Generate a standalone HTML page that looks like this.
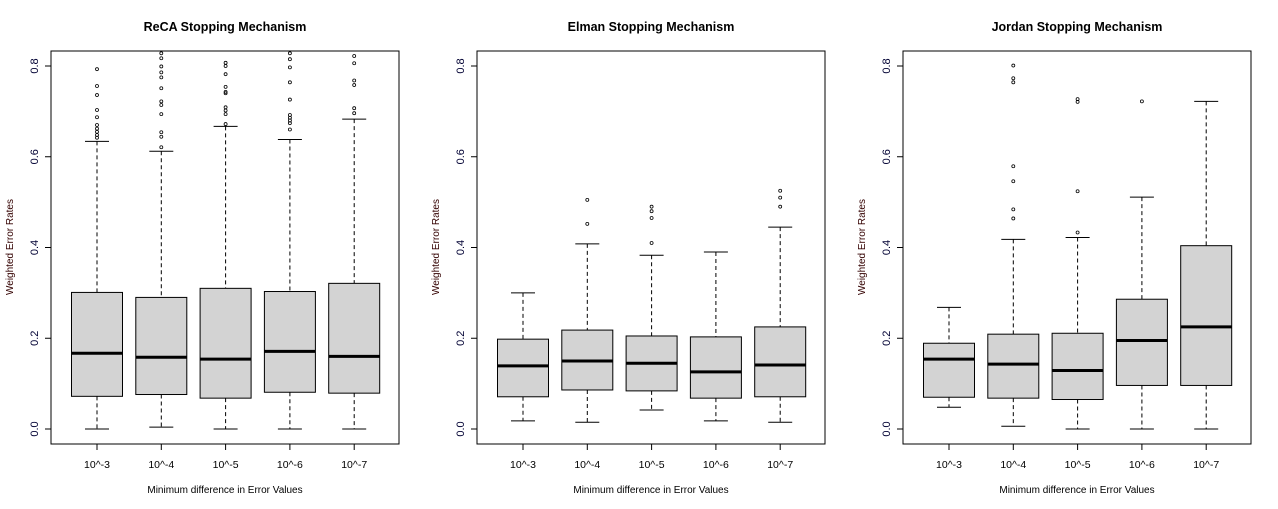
<!DOCTYPE html>
<html><head><meta charset="utf-8"><style>
body{margin:0;background:#fff;}
svg{display:block;font-family:"Liberation Sans",Arial,sans-serif;}
</style></head><body>
<svg id="chart" width="1278" height="509" viewBox="0 0 1278 509"></svg>
<script>
const categories = ["10^-3","10^-4","10^-5","10^-6","10^-7"];
const titles = ["ReCA Stopping Mechanism","Elman Stopping Mechanism","Jordan Stopping Mechanism"];
const yTicks = [0.0,0.2,0.4,0.6,0.8];
const yTickLabels = ["0.0","0.2","0.4","0.6","0.8"];
// [lowerWhisker, q1, median, q3, upperWhisker]
const recaStats = [[0,0.072,0.167,0.301,0.634],[0.004,0.076,0.158,0.290,0.612],[0,0.068,0.154,0.310,0.667],[0,0.081,0.171,0.303,0.638],[0,0.079,0.160,0.321,0.683]];
const elmanStats = [[0.018,0.071,0.139,0.198,0.300],[0.015,0.086,0.150,0.218,0.408],[0.042,0.084,0.145,0.205,0.383],[0.018,0.068,0.126,0.203,0.390],[0.015,0.071,0.141,0.225,0.445]];
const jordanStats = [[0.048,0.070,0.154,0.189,0.268],[0.006,0.068,0.143,0.209,0.418],[0,0.065,0.129,0.211,0.422],[0,0.096,0.195,0.286,0.511],[0,0.096,0.225,0.404,0.722]];
const recaOutliers = [[0.793,0.756,0.736,0.703,0.687,0.670,0.662,0.655,0.648,0.642],[0.828,0.817,0.799,0.786,0.775,0.751,0.722,0.714,0.694,0.654,0.644,0.621],[0.807,0.800,0.782,0.754,0.743,0.740,0.709,0.702,0.694,0.672],[0.828,0.815,0.797,0.764,0.726,0.692,0.686,0.680,0.674,0.660],[0.822,0.806,0.768,0.758,0.707,0.696]];
const elmanOutliers = [[],[0.505,0.452],[0.49,0.48,0.465,0.41],[],[0.525,0.51,0.49]];
const jordanOutliers = [[],[0.801,0.773,0.764,0.579,0.546,0.484,0.464],[0.727,0.721,0.524,0.433],[0.722],[]];

const svg=document.getElementById('chart');
const NS='http://www.w3.org/2000/svg';
function mk(tag,attrs,parent){const e=document.createElementNS(NS,tag);for(const k in attrs)e.setAttribute(k,attrs[k]);(parent||svg).appendChild(e);return e;}
const panels=[{x0:51,stats:recaStats,out:recaOutliers,key:'reca'},{x0:477,stats:elmanStats,out:elmanOutliers,key:'elman'},{x0:903,stats:jordanStats,out:jordanOutliers,key:'jordan'}];
const W=348, yTop=51, yBot=444;
function yS(v){return 429-v*453.75;}
panels.forEach((p,pi)=>{
  const g=mk('g',{});
  
  
  const xS=i=>p.x0+46+i*64.3;
  const t=mk('text',{x:p.x0+W/2,y:31,'text-anchor':'middle','font-size':'12.5','font-weight':'bold'},g);t.textContent=titles[pi];
  
  const fr=mk('rect',{x:p.x0,y:yTop,width:W,height:yBot-yTop,fill:'none',stroke:'#000','stroke-width':1},g);
  
  yTicks.forEach((v,k)=>{
    mk('line',{x1:p.x0-6,x2:p.x0,y1:yS(v),y2:yS(v),stroke:'#000'},g);
    const tl=mk('text',{x:0,y:0,transform:`translate(${p.x0-13},${yS(v)}) rotate(-90)`,'text-anchor':'middle','font-size':'11',fill:'#000033'},g);
    tl.textContent=yTickLabels[k];
    
  });
  const ya=mk('text',{x:0,y:0,transform:`translate(${p.x0-38},${247}) rotate(-90)`,'text-anchor':'middle','font-size':'10',fill:'#330000'},g);
  ya.textContent='Weighted Error Rates';
  
  const xa=mk('text',{x:p.x0+W/2,y:493,'text-anchor':'middle','font-size':'10'},g);
  xa.textContent='Minimum difference in Error Values';
  
  categories.forEach((c,i)=>{
    const cx=xS(i), s=p.stats[i];
    mk('line',{x1:cx,x2:cx,y1:yBot,y2:yBot+6,stroke:'#000'},g);
    const xl=mk('text',{x:cx,y:468,'text-anchor':'middle','font-size':'10.5'},g);xl.textContent=c;
    
    const bg=mk('g',{},g);
    
    mk('line',{x1:cx,x2:cx,y1:yS(s[4]),y2:yS(s[3]),stroke:'#000','stroke-dasharray':'4,3'},bg);
    mk('line',{x1:cx,x2:cx,y1:yS(s[1]),y2:yS(s[0]),stroke:'#000','stroke-dasharray':'4,3'},bg);
    mk('line',{x1:cx-12,x2:cx+12,y1:yS(s[4]),y2:yS(s[4]),stroke:'#000'},bg);
    mk('line',{x1:cx-12,x2:cx+12,y1:yS(s[0]),y2:yS(s[0]),stroke:'#000'},bg);
    mk('rect',{x:cx-25.5,y:yS(s[3]),width:51,height:yS(s[1])-yS(s[3]),fill:'#d3d3d3',stroke:'#000'},bg);
    mk('line',{x1:cx-25.5,x2:cx+25.5,y1:yS(s[2]),y2:yS(s[2]),stroke:'#000','stroke-width':3},bg);
    p.out[i].forEach(v=>{
      const o=mk('circle',{cx:cx,cy:yS(v),r:1.5,fill:'none',stroke:'#000','stroke-width':0.8},bg);
      
    });
  });
});
</script>
</body></html>
